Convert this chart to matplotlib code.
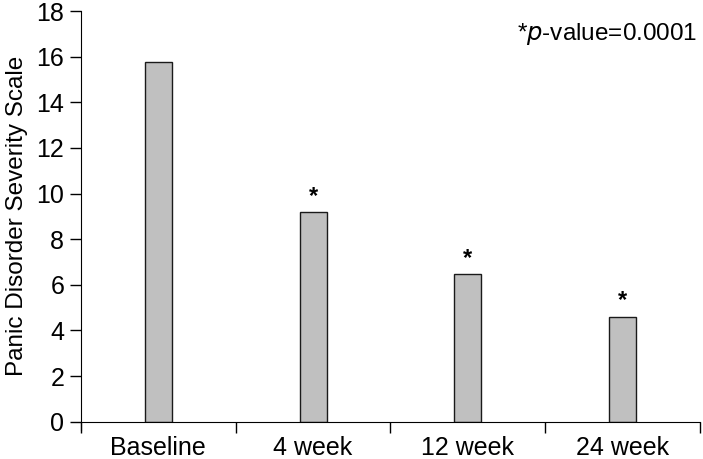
import numpy as np
import matplotlib
matplotlib.use('Agg')
import matplotlib.pyplot as plt

plt.rcParams['font.family'] = ['Liberation Sans', 'DejaVu Sans']

categories = ['Baseline', '4 week', '12 week', '24 week']
scores = [15.75, 9.18, 6.46, 4.59]
significant = [False, True, True, True]

fig = plt.figure(figsize=(7.03, 4.59), dpi=100)
ax = fig.add_axes([0.1152, 0.0813, 0.8805, 0.8947])

x = np.arange(len(categories))
ax.bar(x, scores, width=0.175, color='#c0c0c0', edgecolor='#1a1a1a', linewidth=1.0)

for xi, v, s in zip(x, scores, significant):
    if s:
        ax.text(xi, v + 0.2, '*', ha='center', va='bottom', fontsize=17,
                fontweight='bold')

ax.set_xlim(-0.5, len(categories) - 0.5)
ax.set_ylim(0, 18)
ax.set_yticks(np.arange(0, 19, 2))
ax.set_xticks(np.arange(len(categories) + 1) - 0.5)
ax.set_xticklabels([])
ax.set_xticks(x, minor=True)
ax.set_xticklabels(categories, minor=True)
ax.tick_params(axis='x', which='minor', length=0, pad=10, labelsize=18)
ax.tick_params(axis='x', which='major', length=8, width=1, direction='out')
ax.tick_params(axis='y', length=8, width=1, direction='out', labelsize=18, pad=4)

ax.spines['top'].set_visible(False)
ax.spines['right'].set_visible(False)
ax.spines['left'].set_bounds(-0.35, 18)
ax.set_ylabel('Panic Disorder Severity Scale', fontsize=17.5, labelpad=6)

ax.text(0.995, 0.975, r'*$\it{p}$-value=0.0001', transform=ax.transAxes,
        ha='right', va='top', fontsize=17.5)

fig.savefig('out.png', dpi=100)
